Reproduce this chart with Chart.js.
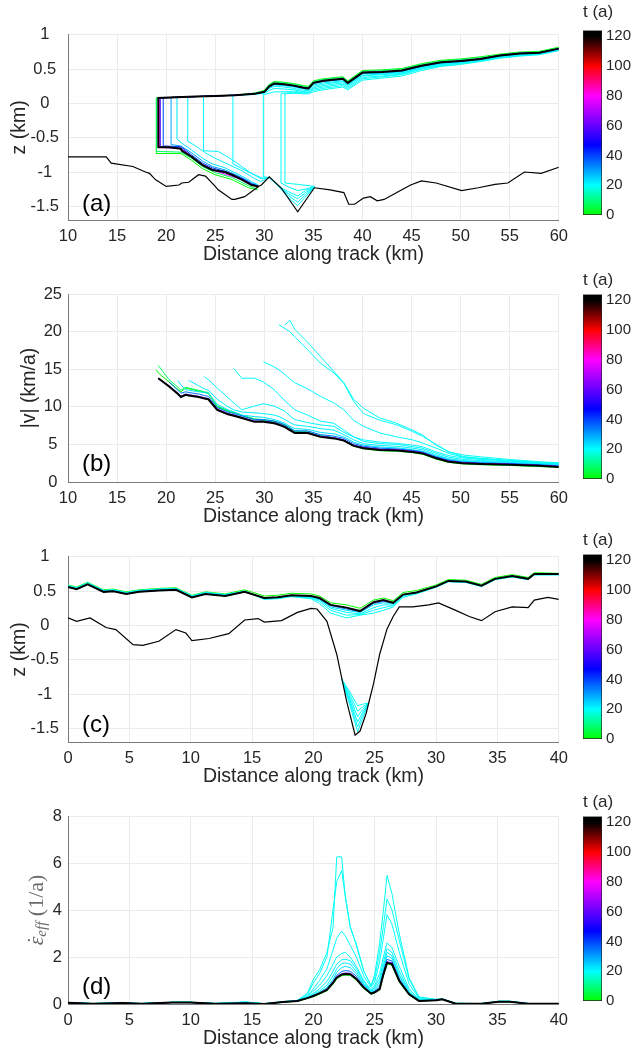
<!DOCTYPE html>
<html>
<head>
<meta charset="utf-8">
<script src="https://cdn.jsdelivr.net/npm/chart.js@4.4.0/dist/chart.umd.min.js"></script>
<style>
  html, body { margin: 0; padding: 0; background: #fff; }
  body { width: 635px; height: 1050px; position: relative; overflow: hidden; font-family: "Liberation Sans", Arial, sans-serif; }
  .panel { position: absolute; left: 0; width: 575px; height: 250px; }
  .cbar { position: absolute; left: 575px; width: 60px; height: 228px; }
  .tag { position: absolute; left: 82px; font-size: 24px; line-height: 24px; color: #000; }
</style>
</head>
<body>
<div class="panel" style="top:16px"><canvas id="chartA"></canvas></div>
<div class="panel" style="top:278px"><canvas id="chartB"></canvas></div>
<div class="panel" style="top:538px"><canvas id="chartC"></canvas></div>
<div class="panel" style="top:800px"><canvas id="chartD"></canvas></div>
<div class="cbar" style="top:0px"><canvas id="cbarA"></canvas></div>
<div class="cbar" style="top:264px"><canvas id="cbarB"></canvas></div>
<div class="cbar" style="top:524px"><canvas id="cbarC"></canvas></div>
<div class="cbar" style="top:786px"><canvas id="cbarD"></canvas></div>
<div class="tag" style="top:191px">(a)</div>
<div class="tag" style="top:451px">(b)</div>
<div class="tag" style="top:712px">(c)</div>
<div class="tag" style="top:974px">(d)</div>
<script>
// ---- data ----
function pad(n, vals) { return Array(n).fill(null).concat(vals); }

// colour bar
var cbarTicks = [0, 20, 40, 60, 80, 100, 120];
var cbarMax = 124;

// (a) geometry along track, x 10..60
var xTicksA = [10, 15, 20, 25, 30, 35, 40, 45, 50, 55, 60];
var zTicks = [-1.5, -1, -0.5, 0, 0.5, 1];
var bedDistA = [10, 13.9, 14.4, 16.6, 17.9, 18.3, 18.9, 20.0, 21.3, 21.6, 22.3, 23.3, 24.0, 25.0, 25.3, 26.7, 27.0, 28.0, 29.4, 29.7, 30.5, 31.7, 33.4, 35.1, 36.7, 38.1, 38.6, 39.2, 40.1, 40.8, 41.5, 42.2, 43.5, 44.9, 46.0, 47.5, 50.1, 51.8, 53.5, 54.8, 56.5, 58.2, 60];
var bedA = [-0.78, -0.78, -0.87, -0.92, -1.00, -1.02, -1.11, -1.21, -1.19, -1.16, -1.15, -1.04, -1.06, -1.21, -1.26, -1.40, -1.40, -1.36, -1.21, -1.19, -1.07, -1.23, -1.58, -1.23, -1.26, -1.30, -1.47, -1.47, -1.38, -1.36, -1.42, -1.40, -1.30, -1.19, -1.13, -1.16, -1.27, -1.23, -1.18, -1.16, -1.00, -1.02, -0.93];
var timesA = [0, 8, 19, 19.5, 20, 20.5, 21, 21.5, 23, 30, 40, 55, 75, 120];
var frontA = [19.0, 19.0, 32.1, 31.7, 29.9, 26.8, 23.8, 22.2, 21.1, 20.5, 19.7, 19.4, 19.3, 19.2];
var frontTopA = [0.08, 0.08, 0.14, 0.14, 0.13, 0.12, 0.10, 0.10, 0.09, 0.09, 0.08, 0.08, 0.08, 0.08];
var baseXA = [
  [19.0, 21.5, 22.6, 23.7, 25.0, 26.7, 28.4, 29.3],
  [19.0, 21.5, 22.6, 23.7, 25.0, 26.7, 28.4, 29.3],
  [32.1, 33.4, 35.1],
  [31.7, 32.5, 33.4, 34.2, 35.1],
  [29.9, 30.5, 31.7, 32.5, 33.4, 34.2, 35.1],
  [26.8, 27.7, 28.7, 29.8, 30.5, 31.7, 32.5, 33.4, 34.2, 35.1],
  [23.8, 25.3, 26.5, 27.7, 28.7, 29.7, 30.5, 31.7, 32.5, 33.4, 34.2, 35.1],
  [22.2, 23.0, 24.0, 25.0, 26.5, 27.7, 28.7, 29.6, 30.5, 31.7, 32.5, 33.4, 34.2, 35.1],
  [21.1, 21.6, 22.6, 23.7, 24.7, 26.0, 27.7, 28.7, 29.4],
  [20.5, 21.5, 22.6, 23.7, 24.7, 26.0, 27.7, 28.7, 29.4],
  [19.7, 21.5, 22.6, 23.7, 24.7, 26.0, 27.7, 28.7, 29.4],
  [19.4, 21.5, 22.6, 23.7, 24.7, 26.0, 27.7, 28.7, 29.4],
  [19.3, 21.5, 22.6, 23.7, 24.7, 26.0, 27.7, 28.7, 29.4],
  [19.2, 20.3, 21.5, 21.6, 22.6, 23.7, 24.7, 26.0, 26.7, 27.7, 28.7, 29.4]
];
var baseZA = [
  [-0.73, -0.73, -0.83, -0.95, -1.04, -1.11, -1.23, -1.26],
  [-0.70, -0.71, -0.80, -0.92, -1.01, -1.08, -1.20, -1.25],
  [-1.16, -1.18, -1.21],
  [-1.16, -1.22, -1.27, -1.25, -1.21],
  [-1.07, -1.08, -1.23, -1.29, -1.35, -1.27, -1.22],
  [-0.88, -0.95, -1.02, -1.09, -1.08, -1.24, -1.32, -1.39, -1.30, -1.22],
  [-0.69, -0.70, -0.80, -0.92, -1.02, -1.10, -1.08, -1.24, -1.35, -1.44, -1.33, -1.22],
  [-0.55, -0.62, -0.72, -0.80, -0.90, -0.98, -1.07, -1.14, -1.08, -1.25, -1.38, -1.49, -1.36, -1.22],
  [-0.52, -0.58, -0.68, -0.80, -0.88, -0.94, -1.06, -1.14, -1.19],
  [-0.60, -0.62, -0.72, -0.84, -0.92, -0.97, -1.08, -1.16, -1.20],
  [-0.62, -0.63, -0.75, -0.87, -0.94, -0.99, -1.09, -1.17, -1.21],
  [-0.63, -0.65, -0.77, -0.89, -0.96, -1.01, -1.10, -1.18, -1.21],
  [-0.64, -0.66, -0.78, -0.90, -0.97, -1.03, -1.11, -1.19, -1.21],
  [-0.64, -0.64, -0.66, -0.69, -0.78, -0.90, -0.97, -1.00, -1.04, -1.11, -1.19, -1.21]
];
var distA = [19, 21, 23, 25, 27, 29, 30, 30.5, 31, 32, 33, 34, 34.5, 35, 36, 38, 38.5, 40, 42, 44, 46, 48, 50, 52, 54, 56, 58, 60];
var surfLateA = [0.08, 0.09, 0.10, 0.11, 0.12, 0.14, 0.17, 0.25, 0.29, 0.28, 0.26, 0.23, 0.22, 0.30, 0.33, 0.36, 0.30, 0.45, 0.46, 0.48, 0.55, 0.60, 0.62, 0.65, 0.70, 0.73, 0.74, 0.80];
var upperA = [
  [0.08, 0.09, 0.10, 0.11, 0.12, 0.15, 0.19, 0.28, 0.32, 0.31, 0.29, 0.26, 0.25, 0.33, 0.36, 0.39, 0.33, 0.48, 0.49, 0.51, 0.58, 0.63, 0.65, 0.68, 0.72, 0.75, 0.76, 0.82],
  [0.08, 0.09, 0.10, 0.11, 0.12, 0.15, 0.18, 0.27, 0.31, 0.30, 0.28, 0.25, 0.24, 0.32, 0.35, 0.38, 0.32, 0.47, 0.48, 0.50, 0.57, 0.62, 0.64, 0.67, 0.71, 0.74, 0.75, 0.81],
  pad(10, [0.15, 0.14, 0.14, 0.17, 0.20, 0.24, 0.20, 0.34, 0.37, 0.40, 0.48, 0.54, 0.57, 0.61, 0.66, 0.69, 0.71, 0.77]),
  pad(9, [0.15, 0.16, 0.15, 0.16, 0.19, 0.22, 0.26, 0.22, 0.36, 0.39, 0.42, 0.50, 0.55, 0.58, 0.62, 0.67, 0.70, 0.72, 0.78]),
  pad(6, [0.13, 0.15, 0.17, 0.17, 0.18, 0.16, 0.16, 0.21, 0.24, 0.28, 0.24, 0.38, 0.40, 0.43, 0.51, 0.56, 0.59, 0.63, 0.67, 0.70, 0.72, 0.78]),
  pad(4, [0.12, 0.13, 0.15, 0.19, 0.22, 0.21, 0.20, 0.17, 0.17, 0.23, 0.26, 0.30, 0.26, 0.40, 0.42, 0.44, 0.52, 0.57, 0.60, 0.63, 0.68, 0.71, 0.73, 0.79]),
  pad(3, [0.11, 0.12, 0.14, 0.16, 0.22, 0.25, 0.24, 0.22, 0.19, 0.19, 0.25, 0.28, 0.32, 0.27, 0.41, 0.43, 0.45, 0.53, 0.58, 0.60, 0.64, 0.69, 0.72, 0.73, 0.79]),
  pad(2, [0.10, 0.11, 0.12, 0.14, 0.16, 0.23, 0.27, 0.26, 0.24, 0.21, 0.20, 0.27, 0.30, 0.33, 0.28, 0.43, 0.44, 0.46, 0.54, 0.59, 0.61, 0.64, 0.69, 0.72, 0.74, 0.80]),
  pad(2, [0.10, 0.11, 0.12, 0.14, 0.17, 0.24, 0.28, 0.27, 0.25, 0.22, 0.21, 0.29, 0.32, 0.35, 0.29, 0.44, 0.45, 0.47, 0.54, 0.59, 0.62, 0.65, 0.70, 0.73, 0.74, 0.80]),
  [0.08, 0.09, 0.10, 0.11, 0.12, 0.14, 0.16, 0.24, 0.28, 0.27, 0.25, 0.22, 0.21, 0.29, 0.32, 0.35, 0.29, 0.44, 0.45, 0.47, 0.54, 0.59, 0.61, 0.64, 0.69, 0.72, 0.73, 0.79],
  surfLateA, surfLateA, surfLateA, surfLateA
];

// (b) speed, x 10..60
var vTicks = [0, 5, 10, 15, 20, 25];
var timesB = [0, 8, 19, 19.5, 20, 20.5, 21, 21.5, 23, 35, 50, 75, 120];
var distB = [19.0, 19.2, 20.3, 21.2, 21.5, 22.0, 22.3, 23.3, 23.9, 24.3, 25.2, 26.3, 26.9, 27.7, 29.0, 29.9, 31.0, 31.5, 32.1, 32.6, 33.1, 34.4, 35.7, 37.1, 38.1, 39.1, 40.1, 41.8, 43.5, 45.1, 46.1, 47.5, 48.8, 50.2, 52.0, 55.0, 58.0, 60.0];
var speedB = [
  [14.9, 14.5, 13.3, 12.3, 12.0, 12.5, 12.4, 12.1, 11.9, 11.8, 10.0, 9.4, 9.2, 8.8, 8.3, 8.2, 8.0, 7.8, 7.5, 7.1, 6.7, 6.6, 6.1, 5.8, 5.5, 4.8, 4.4, 4.15, 4.1, 3.9, 3.7, 3.05, 2.6, 2.4, 2.3, 2.2, 2.05, 1.95],
  pad(1, [15.5, 13.6, 12.6, 12.2, 12.6, 12.5, 12.2, 12.0, 11.9, 10.1, 9.5, 9.3, 8.9, 8.4, 8.3, 8.1, 7.9, 7.6, 7.2, 6.8, 6.7, 6.2, 5.9, 5.6, 4.9, 4.5, 4.2, 4.15, 3.95, 3.75, 3.1, 2.65, 2.45, 2.35, 2.25, 2.1, 2.0]),
  pad(18, [20.9, 21.5, 20.3, 18.6, 16.7, 14.7, 13.2, 11.0, 9.8, 8.5, 7.8, 6.9, 6.25, 4.9, 4.0, 3.6, 3.35, 3.0, 2.7, 2.55]),
  pad(17, [20.9, 20.4, 20.0, 19.3, 17.6, 15.8, 14.5, 13.1, 10.7, 9.1, 8.2, 7.6, 6.7, 6.1, 5.0, 4.0, 3.4, 3.15, 2.85, 2.6, 2.5]),
  pad(15, [16.0, 15.3, 14.9, 14.3, 13.7, 13.2, 12.4, 11.4, 10.5, 9.6, 8.2, 7.4, 6.5, 6.0, 5.6, 5.2, 4.5, 3.8, 3.3, 3.1, 2.85, 2.6, 2.5]),
  pad(12, [15.1, 13.8, 13.8, 13.3, 12.3, 11.6, 10.8, 10.2, 9.6, 8.9, 8.1, 7.8, 6.9, 6.0, 5.6, 5.3, 5.15, 4.9, 4.7, 4.0, 3.5, 3.2, 3.0, 2.8, 2.55, 2.45]),
  pad(8, [14.0, 13.6, 12.5, 11.2, 10.5, 9.6, 10.1, 10.4, 10.1, 9.8, 9.4, 8.8, 8.3, 7.9, 7.6, 7.4, 6.6, 6.0, 5.4, 5.1, 5.0, 4.7, 4.5, 3.8, 3.3, 3.0, 2.85, 2.7, 2.5, 2.4]),
  pad(6, [13.5, 12.8, 12.4, 12.2, 11.0, 10.0, 9.6, 9.3, 9.2, 9.1, 8.9, 8.7, 8.3, 7.9, 7.6, 7.4, 7.1, 6.9, 6.3, 5.6, 5.1, 4.85, 4.75, 4.5, 4.3, 3.6, 3.1, 2.85, 2.75, 2.6, 2.45, 2.35]),
  pad(3, [13.5, 12.9, 12.3, 12.2, 12.0, 11.9, 11.8, 10.3, 9.6, 9.3, 8.9, 8.7, 8.6, 8.3, 8.1, 7.8, 7.4, 7.1, 7.0, 6.6, 6.4, 6.0, 5.3, 4.9, 4.65, 4.55, 4.3, 4.1, 3.45, 3.0, 2.75, 2.65, 2.5, 2.35, 2.25]),
  pad(2, [13.3, 12.2, 11.8, 12.0, 11.9, 11.7, 11.5, 11.4, 9.9, 9.3, 9.1, 8.8, 8.3, 8.3, 8.1, 7.9, 7.6, 7.2, 6.8, 6.8, 6.3, 6.1, 5.8, 5.1, 4.75, 4.5, 4.4, 4.2, 4.0, 3.35, 2.9, 2.65, 2.55, 2.45, 2.3, 2.15]),
  pad(1, [13.7, 12.8, 11.8, 11.4, 11.7, 11.6, 11.4, 11.2, 11.1, 9.7, 9.1, 8.9, 8.6, 8.1, 8.1, 7.9, 7.7, 7.4, 7.0, 6.6, 6.6, 6.1, 5.9, 5.6, 4.9, 4.6, 4.35, 4.3, 4.1, 3.9, 3.25, 2.8, 2.58, 2.48, 2.38, 2.23, 2.07]),
  pad(1, [13.8, 12.75, 11.75, 11.35, 11.65, 11.55, 11.35, 11.15, 11.05, 9.65, 9.05, 8.85, 8.55, 8.05, 8.05, 7.85, 7.65, 7.35, 6.95, 6.55, 6.55, 6.05, 5.85, 5.55, 4.85, 4.55, 4.3, 4.25, 4.05, 3.85, 3.2, 2.75, 2.55, 2.45, 2.35, 2.2, 2.05]),
  pad(1, [13.8, 12.7, 11.7, 11.3, 11.6, 11.5, 11.3, 11.1, 11.0, 9.6, 9.0, 8.8, 8.5, 8.0, 8.0, 7.8, 7.6, 7.3, 6.9, 6.5, 6.5, 6.0, 5.8, 5.5, 4.8, 4.5, 4.25, 4.2, 4.0, 3.8, 3.15, 2.7, 2.5, 2.4, 2.3, 2.15, 2.0])
];

// (c) geometry, x 0..40
var xTicksC = [0, 5, 10, 15, 20, 25, 30, 35, 40];
var bedDistC = [0, 0.7, 1.8, 3.1, 3.9, 5.3, 6.1, 7.4, 8.8, 9.6, 10.1, 11.5, 13.1, 14.4, 15.5, 16.0, 17.4, 18.7, 19.8, 20.3, 21.1, 21.9, 22.7, 23.4, 23.8, 24.3, 24.9, 25.4, 26.0, 26.5, 27.0, 28.1, 29.4, 30.2, 31.6, 32.7, 33.7, 34.8, 36.2, 37.5, 38.0, 39.1, 40];
var bedC = [0.11, 0.06, 0.11, -0.03, -0.06, -0.28, -0.29, -0.23, -0.06, -0.11, -0.22, -0.19, -0.12, 0.08, 0.10, 0.05, 0.07, 0.19, 0.25, 0.24, 0.06, -0.42, -1.10, -1.60, -1.54, -1.28, -0.85, -0.42, -0.05, 0.13, 0.27, 0.27, 0.30, 0.33, 0.22, 0.13, 0.07, 0.20, 0.27, 0.26, 0.37, 0.41, 0.38];
var timesC = [0, 19, 20, 21, 23, 35, 120];
var distC = [0, 0.7, 1.6, 2.9, 3.7, 4.75, 5.8, 7.4, 8.8, 10.1, 11.2, 12.8, 14.4, 16.0, 17.1, 18.2, 19.8, 20.5, 21.4, 22.7, 23.8, 24.9, 25.7, 26.5, 27.3, 28.4, 30.0, 31.0, 32.4, 33.7, 34.8, 36.2, 37.5, 38.0, 40.0];
var surfC = [
  [0.59, 0.56, 0.63, 0.52, 0.53, 0.49, 0.52, 0.54, 0.55, 0.44, 0.49, 0.46, 0.52, 0.43, 0.44, 0.47, 0.46, 0.43, 0.33, 0.30, 0.25, 0.37, 0.40, 0.36, 0.48, 0.51, 0.59, 0.67, 0.66, 0.60, 0.70, 0.74, 0.70, 0.77, 0.76],
  [0.58, 0.55, 0.62, 0.51, 0.52, 0.48, 0.51, 0.53, 0.54, 0.43, 0.48, 0.45, 0.50, 0.38, 0.39, 0.42, 0.39, 0.32, 0.18, 0.11, 0.15, 0.18, 0.22, 0.27, 0.41, 0.46, 0.56, 0.64, 0.63, 0.57, 0.67, 0.71, 0.67, 0.74, 0.74],
  [0.58, 0.55, 0.62, 0.51, 0.52, 0.48, 0.51, 0.53, 0.54, 0.43, 0.48, 0.45, 0.50, 0.39, 0.40, 0.43, 0.40, 0.35, 0.22, 0.15, 0.16, 0.22, 0.26, 0.29, 0.43, 0.47, 0.56, 0.64, 0.63, 0.57, 0.67, 0.71, 0.67, 0.74, 0.74],
  [0.57, 0.54, 0.61, 0.50, 0.51, 0.47, 0.50, 0.52, 0.53, 0.42, 0.47, 0.44, 0.50, 0.39, 0.40, 0.43, 0.41, 0.37, 0.25, 0.19, 0.17, 0.26, 0.30, 0.30, 0.44, 0.47, 0.56, 0.64, 0.63, 0.57, 0.67, 0.71, 0.67, 0.74, 0.74],
  [0.57, 0.54, 0.61, 0.50, 0.51, 0.47, 0.50, 0.52, 0.53, 0.42, 0.47, 0.44, 0.49, 0.40, 0.41, 0.44, 0.42, 0.38, 0.27, 0.22, 0.19, 0.30, 0.33, 0.32, 0.45, 0.48, 0.57, 0.65, 0.64, 0.58, 0.68, 0.72, 0.68, 0.75, 0.75],
  [0.56, 0.53, 0.60, 0.49, 0.50, 0.46, 0.49, 0.51, 0.52, 0.41, 0.46, 0.43, 0.49, 0.40, 0.41, 0.44, 0.43, 0.39, 0.29, 0.24, 0.20, 0.32, 0.35, 0.33, 0.45, 0.48, 0.57, 0.65, 0.64, 0.58, 0.68, 0.72, 0.68, 0.75, 0.75],
  [0.56, 0.53, 0.60, 0.49, 0.50, 0.46, 0.49, 0.51, 0.52, 0.41, 0.46, 0.43, 0.49, 0.40, 0.41, 0.44, 0.43, 0.40, 0.30, 0.26, 0.21, 0.34, 0.37, 0.33, 0.45, 0.48, 0.57, 0.65, 0.64, 0.58, 0.68, 0.72, 0.68, 0.75, 0.75]
];
var troughTimes = [19, 19.5, 20, 20.5, 21, 21.5];
var troughX = [22.3, 23.0, 23.6, 24.0, 24.5];
var troughZ = [
  [-0.78, -0.98, -1.17, -1.15, -1.13],
  [-0.78, -1.02, -1.25, -1.19, -1.13],
  [-0.78, -1.06, -1.33, -1.23, -1.13],
  [-0.78, -1.10, -1.41, -1.27, -1.13],
  [-0.78, -1.14, -1.48, -1.31, -1.13],
  [-0.78, -1.18, -1.55, -1.36, -1.13]
];

// (d) effective strain rate, x 0..40
var eTicks = [0, 2, 4, 6, 8];
var timesD = [0, 19, 19.5, 20, 20.5, 21, 21.5, 23, 35, 60, 120];
var distD = [0, 2, 4.5, 6, 8.5, 10, 12, 14.5, 16, 17.5, 18.7, 19.5, 20.0, 20.5, 21.1, 21.6, 21.9, 22.3, 22.6, 23.0, 23.5, 24.1, 24.7, 25.0, 25.4, 25.7, 26.0, 26.4, 27.0, 27.8, 28.6, 30.0, 30.5, 31.6, 33.7, 35.1, 36.0, 37.5, 40.0];
var strainD = [
  [0.05, 0.01, 0.04, 0.01, 0.06, 0.06, 0.01, 0.03, 0.0, 0.07, 0.12, 0.23, 0.32, 0.42, 0.56, 0.85, 1.07, 1.20, 1.23, 1.22, 1.01, 0.66, 0.41, 0.47, 0.60, 1.20, 1.70, 1.65, 0.93, 0.38, 0.12, 0.15, 0.19, 0.01, 0.01, 0.09, 0.09, 0.01, 0.01],
  [0.05, 0.02, 0.04, 0.02, 0.07, 0.07, 0.02, 0.09, 0.01, 0.10, 0.16, 0.45, 1.05, 1.45, 2.19, 3.26, 6.26, 6.26, 4.54, 3.26, 2.55, 1.41, 0.77, 1.27, 2.60, 3.97, 5.47, 4.70, 2.98, 1.12, 0.30, 0.20, 0.22, 0.03, 0.02, 0.12, 0.12, 0.02, 0.01],
  [0.05, 0.02, 0.04, 0.02, 0.07, 0.07, 0.02, 0.08, 0.01, 0.10, 0.15, 0.40, 0.90, 1.30, 2.00, 4.00, 5.20, 5.68, 4.60, 3.30, 2.50, 1.40, 0.80, 1.10, 2.20, 3.30, 4.47, 4.00, 2.70, 1.05, 0.28, 0.19, 0.21, 0.03, 0.02, 0.11, 0.11, 0.02, 0.01],
  [0.05, 0.02, 0.04, 0.02, 0.07, 0.07, 0.02, 0.08, 0.01, 0.09, 0.14, 0.33, 0.65, 1.00, 1.50, 2.30, 2.80, 3.10, 2.90, 2.50, 2.00, 1.20, 0.70, 0.95, 1.80, 2.80, 3.80, 3.40, 2.20, 0.85, 0.25, 0.18, 0.21, 0.02, 0.02, 0.11, 0.11, 0.02, 0.01],
  [0.05, 0.02, 0.04, 0.02, 0.07, 0.07, 0.02, 0.07, 0.01, 0.09, 0.14, 0.30, 0.55, 0.80, 1.20, 1.70, 2.00, 2.15, 2.20, 2.00, 1.60, 1.00, 0.60, 0.80, 1.30, 2.00, 2.60, 2.40, 1.60, 0.65, 0.20, 0.17, 0.21, 0.02, 0.02, 0.11, 0.11, 0.02, 0.01],
  [0.05, 0.02, 0.04, 0.02, 0.07, 0.07, 0.02, 0.06, 0.01, 0.09, 0.14, 0.28, 0.45, 0.65, 0.95, 1.40, 1.70, 1.88, 1.90, 1.85, 1.50, 0.95, 0.55, 0.72, 1.10, 1.80, 2.35, 2.20, 1.40, 0.55, 0.18, 0.17, 0.21, 0.02, 0.02, 0.11, 0.11, 0.02, 0.01],
  [0.05, 0.02, 0.04, 0.02, 0.07, 0.07, 0.02, 0.05, 0.01, 0.09, 0.14, 0.27, 0.40, 0.56, 0.80, 1.20, 1.50, 1.72, 1.75, 1.70, 1.38, 0.88, 0.52, 0.65, 0.95, 1.60, 2.20, 2.05, 1.25, 0.50, 0.16, 0.17, 0.21, 0.02, 0.02, 0.11, 0.11, 0.02, 0.01],
  [0.05, 0.02, 0.04, 0.02, 0.07, 0.07, 0.02, 0.05, 0.01, 0.09, 0.14, 0.26, 0.37, 0.50, 0.70, 1.05, 1.35, 1.55, 1.60, 1.55, 1.28, 0.82, 0.49, 0.58, 0.82, 1.45, 2.05, 1.95, 1.15, 0.47, 0.15, 0.17, 0.21, 0.02, 0.02, 0.11, 0.11, 0.02, 0.01],
  [0.05, 0.01, 0.04, 0.01, 0.06, 0.06, 0.01, 0.04, 0.0, 0.08, 0.13, 0.25, 0.35, 0.47, 0.65, 0.97, 1.22, 1.38, 1.42, 1.40, 1.18, 0.76, 0.46, 0.54, 0.72, 1.35, 1.90, 1.83, 1.06, 0.44, 0.14, 0.16, 0.20, 0.01, 0.01, 0.10, 0.10, 0.01, 0.01],
  [0.05, 0.01, 0.04, 0.01, 0.06, 0.06, 0.01, 0.03, 0.0, 0.08, 0.13, 0.25, 0.34, 0.46, 0.62, 0.93, 1.16, 1.29, 1.32, 1.31, 1.10, 0.72, 0.45, 0.52, 0.66, 1.29, 1.80, 1.75, 1.01, 0.42, 0.13, 0.16, 0.20, 0.01, 0.01, 0.10, 0.10, 0.01, 0.01],
  [0.05, 0.01, 0.04, 0.01, 0.06, 0.06, 0.01, 0.03, 0.0, 0.08, 0.13, 0.25, 0.34, 0.45, 0.60, 0.90, 1.12, 1.25, 1.28, 1.27, 1.06, 0.70, 0.44, 0.50, 0.63, 1.25, 1.75, 1.70, 0.98, 0.41, 0.13, 0.16, 0.20, 0.01, 0.01, 0.10, 0.10, 0.01, 0.01]
];

// ---- styling ----
var FONT = "'Liberation Sans', Arial, Helvetica, sans-serif";
var tickCol = '#262626';
var gridCol = '#ebebeb';
var axisCol = '#7a7a7a';
Chart.defaults.font.family = FONT;

// colormap: green -> cyan -> blue -> magenta -> red -> black
var cmapT = [0, 20, 47, 80, 100, 120];
var cmapRGB = [[0, 255, 0], [0, 255, 255], [0, 0, 255], [255, 0, 255], [255, 0, 0], [0, 0, 0]];
function tColor(t) {
  if (t >= cmapT[cmapT.length - 1]) return 'rgb(0,0,0)';
  for (var i = 0; i < cmapT.length - 1; i++) {
    if (t <= cmapT[i + 1]) {
      var f = (t - cmapT[i]) / (cmapT[i + 1] - cmapT[i]);
      var a = cmapRGB[i], b = cmapRGB[i + 1];
      return 'rgb(' + [0, 1, 2].map(function (k) { return Math.round(a[k] + (b[k] - a[k]) * f); }).join(',') + ')';
    }
  }
}

function pairs(xs, ys) {
  return xs.map(function (x, i) { return { x: x, y: ys[i] }; }).filter(function (p) { return p.y !== null; });
}
function line(pts, t) {
  return { data: pts, borderColor: tColor(t), borderWidth: t >= 120 ? 2 : 1, pointRadius: 0, tension: 0, fill: false, order: 200 - t };
}
function bedLine(pts) {
  return { data: pts, borderColor: '#000', borderWidth: 1.2, pointRadius: 0, tension: 0, fill: false, order: 0 };
}
function fixedTicks(list) {
  return function (scale) { scale.ticks = list.map(function (v) { return { value: v }; }); };
}

function makeChart(id, datasets, xr, xTicks, yr, yTicks, yTitle, yTitlePad, yTickPad, plugins) {
  return new Chart(document.getElementById(id), {
    type: 'line',
    data: { datasets: datasets },
    options: {
      responsive: true, maintainAspectRatio: false, animation: false, events: [],
      layout: { padding: { top: 16, right: 10, left: 0, bottom: 0 } },
      plugins: { legend: { display: false }, tooltip: { enabled: false } },
      scales: {
        x: {
          type: 'linear', min: xr[0], max: xr[1],
          afterBuildTicks: fixedTicks(xTicks),
          afterFit: function (s) { s.height = 46; },
          grid: { color: gridCol, drawTicks: false },
          border: { color: axisCol, width: 1 },
          ticks: { color: tickCol, font: { size: 16.5 }, padding: 7, maxRotation: 0, autoSkip: false },
          title: { display: true, text: 'Distance along track (km)', color: tickCol, font: { size: 19.5 }, padding: 0 }
        },
        y: {
          type: 'linear', min: yr[0], max: yr[1],
          afterBuildTicks: fixedTicks(yTicks),
          afterFit: function (s) { s.width = 68; },
          grid: { color: gridCol, drawTicks: false },
          border: { color: axisCol, width: 1 },
          ticks: { color: tickCol, font: { size: 16.5 }, padding: yTickPad, crossAlign: 'center', autoSkip: false,
                   callback: function (v) { return String(v); } },
          title: { display: !!yTitle, text: yTitle || '', color: tickCol, font: { size: 19.5 }, padding: { top: yTitlePad, bottom: 0 } }
        }
      }
    },
    plugins: plugins || []
  });
}

function makeCbar(id, titleTop) {
  return new Chart(document.getElementById(id), {
    type: 'bar',
    data: {
      labels: [''],
      datasets: [{
        data: [[0, cbarMax]],
        backgroundColor: function (ctx) {
          var chart = ctx.chart;
          if (!chart.chartArea || !chart.scales.y) return null;
          var y0 = chart.scales.y.getPixelForValue(0), y1 = chart.scales.y.getPixelForValue(cbarMax);
          var g = chart.ctx.createLinearGradient(0, y0, 0, y1);
          cmapT.forEach(function (t, i) { g.addColorStop(t / cbarMax, 'rgb(' + cmapRGB[i].join(',') + ')'); });
          g.addColorStop(1, '#000');
          return g;
        },
        borderColor: '#262626', borderWidth: 1, borderSkipped: false,
        barPercentage: 1, categoryPercentage: 1
      }]
    },
    options: {
      responsive: true, maintainAspectRatio: false, animation: false, events: [],
      layout: { padding: { left: 8, right: 0, top: 0, bottom: 10 } },
      plugins: {
        legend: { display: false }, tooltip: { enabled: false },
        title: { display: true, text: 't (a)', align: 'start', color: tickCol, font: { size: 17, weight: 'normal' },
                 padding: { top: titleTop, bottom: 10 - titleTop } }
      },
      scales: {
        x: { display: false },
        y: {
          position: 'right', min: 0, max: cbarMax,
          afterBuildTicks: fixedTicks(cbarTicks),
          afterFit: function (s) { s.width = 33; },
          grid: { display: false, drawTicks: false }, border: { display: false },
          ticks: { color: tickCol, font: { size: 15 }, padding: 4 }
        }
      }
    }
  });
}

// ---- panel (a) ----
var dsA = [];
timesA.forEach(function (t, k) {
  var pts = baseXA[k].map(function (x, i) { return { x: x, y: baseZA[k][i] }; }).reverse();
  pts.push({ x: frontA[k], y: frontTopA[k] });
  distA.forEach(function (x, i) {
    if (x > frontA[k] && upperA[k][i] !== null) pts.push({ x: x, y: upperA[k][i] });
  });
  dsA.push(line(pts, t));
});
dsA.push(bedLine(pairs(bedDistA, bedA)));
makeChart('chartA', dsA, [10, 60], xTicksA, [-1.7, 1], zTicks, 'z (km)', 8, 9);

// ---- panel (b) ----
var dsB = timesB.map(function (t, k) { return line(pairs(distB, speedB[k]), t); });
makeChart('chartB', dsB, [10, 60], xTicksA, [0, 25], vTicks, '|v| (km/a)', 18, 6);

// ---- panel (c) ----
var dsC = timesC.map(function (t, k) { return line(pairs(distC, surfC[k]), t); });
troughTimes.forEach(function (t, k) { dsC.push(line(pairs(troughX, troughZ[k]), t)); });
dsC.push(bedLine(pairs(bedDistC, bedC)));
makeChart('chartC', dsC, [0, 40], xTicksC, [-1.7, 1], zTicks, 'z (km)', 8, 9);

// ---- panel (d) ----
var epsLabel = {
  id: 'epsLabel',
  afterDraw: function (chart) {
    var ctx = chart.ctx, area = chart.chartArea;
    var serif = '"Liberation Serif", "DejaVu Serif", serif';
    var big = 'italic 22px ' + serif, small = 'italic 15px ' + serif, plain = '22px ' + serif;
    ctx.save();
    ctx.translate(37, (area.top + area.bottom) / 2);
    ctx.rotate(-Math.PI / 2);
    ctx.fillStyle = '#6b6b6b';
    ctx.textBaseline = 'middle';
    ctx.font = big; var wE = ctx.measureText('\u03b5').width;
    ctx.font = small; var wS = ctx.measureText('eff').width;
    ctx.font = plain; var wP = ctx.measureText(' (1/a)').width;
    var x = -(wE + wS + wP) / 2;
    ctx.font = big; ctx.fillText('\u03b5', x, 0);
    ctx.font = plain; var wD = ctx.measureText('\u02d9').width;
    ctx.fillText('\u02d9', x + wE / 2 - wD / 2 + 1, -1);
    ctx.font = small; ctx.fillText('eff', x + wE, 5);
    ctx.font = plain; ctx.fillText(' (1/a)', x + wE + wS, 0);
    ctx.restore();
  }
};
var dsD = timesD.map(function (t, k) { return line(pairs(distD, strainD[k]), t); });
makeChart('chartD', dsD, [0, 40], xTicksC, [0, 8], eTicks, '', 0, 6, [epsLabel]);

makeCbar('cbarA', 2);
makeCbar('cbarB', 6);
makeCbar('cbarC', 6);
makeCbar('cbarD', 6);
</script>
</body>
</html>
